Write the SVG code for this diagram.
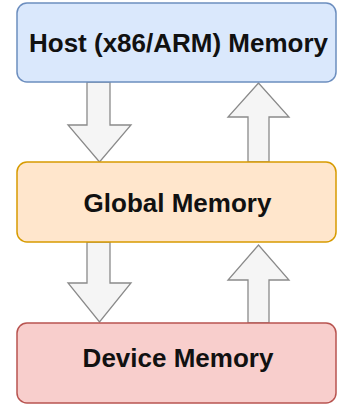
<svg xmlns="http://www.w3.org/2000/svg" width="337" height="405" viewBox="0 0 337 405">
<style>
.lbl{font-family:"Liberation Sans",Arial,sans-serif;font-weight:bold;font-size:26px;fill:#111;text-anchor:middle}
.arrow{fill:#f5f5f5;stroke:#8a8a8a;stroke-width:1.3;stroke-linejoin:miter}
</style>
<rect width="337" height="405" fill="#ffffff"/>
<g id="connectors">
<polygon class="arrow" points="87,82 110,82 110,125 131,125 99.5,162 68,125 87,125"/>
<polygon class="arrow" points="248,162 269,162 269,117 289,117 258.5,83 228,117 248,117"/>
<polygon class="arrow" points="87,242 110,242 110,283 131,283 99.5,322 68,283 87,283"/>
<polygon class="arrow" points="248,323 269,323 269,280 289,280 258.5,245 228,280 248,280"/>
</g>
<g id="host">
<rect x="17" y="3" width="319" height="79" rx="10" fill="#dae8fc" stroke="#6c8ebf" stroke-width="1.5"/>
<text class="lbl" x="178.5" y="52">Host (x86/ARM) Memory</text>
</g>
<g id="global">
<rect x="17" y="162" width="319" height="80" rx="10" fill="#ffe6cc" stroke="#d79b00" stroke-width="1.5"/>
<text class="lbl" x="177.5" y="212">Global Memory</text>
</g>
<g id="device">
<rect x="17" y="323" width="319" height="80" rx="10" fill="#f8cecc" stroke="#b85450" stroke-width="1.5"/>
<text class="lbl" x="178" y="367">Device Memory</text>
</g>
</svg>
